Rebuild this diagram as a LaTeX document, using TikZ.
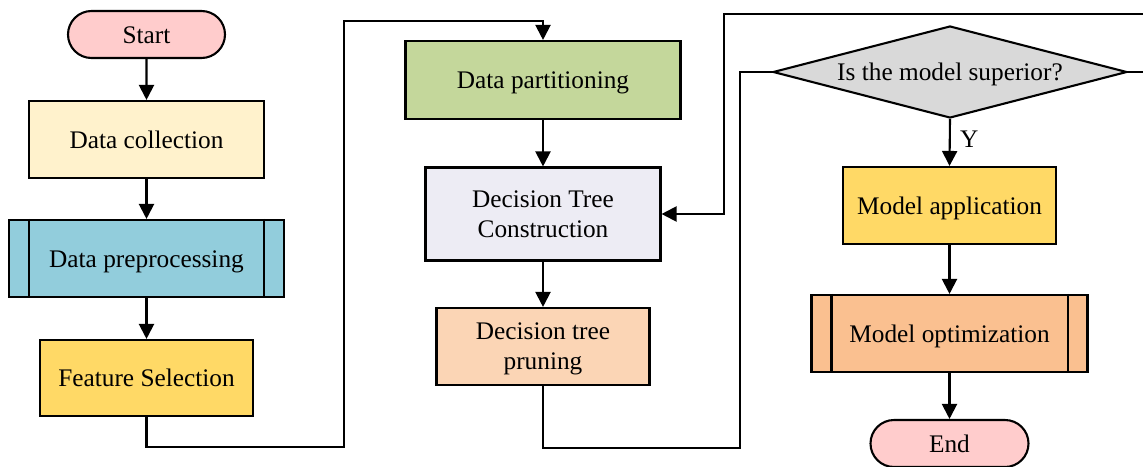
\documentclass[tikz,border=0pt]{standalone}
\usepackage{fontspec}
\setmainfont{Liberation Serif}
\usetikzlibrary{arrows.meta,shapes.geometric,shapes.misc}

\definecolor{termfill}{RGB}{255,204,204}
\definecolor{collectfill}{RGB}{255,242,204}
\definecolor{prepfill}{RGB}{146,205,220}
\definecolor{goldfill}{RGB}{255,217,102}
\definecolor{partfill}{RGB}{196,215,155}
\definecolor{constrfill}{RGB}{237,236,244}
\definecolor{prunefill}{RGB}{251,213,181}
\definecolor{decfill}{RGB}{217,217,217}
\definecolor{optfill}{RGB}{250,192,144}

\tikzset{
  every node/.style={font=\fontsize{25.3}{30}\selectfont, text=black},
  base/.style={draw=black, line width=2.1pt, inner sep=0pt, align=center},
  oneline/.style={text height=19pt, text depth=2pt},
  procbox/.style={base, rectangle},
  termbox/.style={base, rounded rectangle, oneline},
  subbox/.style={base, rectangle, oneline},
  decbox/.style={base, diamond, aspect=3.85, oneline},
  link/.style={line width=2.1pt, draw=black},
  sideline/.style={line width=2.1pt, draw=black},
  arr/.style={link, -{Triangle[length=15pt,width=15pt]}},
}

\begin{document}
\begin{tikzpicture}[x=1pt,y=-1pt]
  \useasboundingbox (0,0) rectangle (1143,466);

  % left column
  \node[termbox, fill=termfill, minimum width=157pt, minimum height=47pt] (start) at (146.5,34.5) {Start};
  \node[procbox, oneline, fill=collectfill, minimum width=235pt, minimum height=77pt] (collect) at (146.5,139.5) {Data collection};
  \node[subbox, fill=prepfill, minimum width=275pt, minimum height=77pt] (prep) at (146.5,258.5) {Data preprocessing};
  \node[procbox, oneline, fill=goldfill, minimum width=213pt, minimum height=76pt] (feat) at (146.5,378) {Feature Selection};

  % middle column
  \node[procbox, oneline, fill=partfill, minimum width=275pt, minimum height=78pt] (part) at (543,80) {Data partitioning};
  \node[procbox, fill=constrfill, minimum width=235pt, minimum height=93pt] (constr) at (543,214) {Decision Tree\\Construction};
  \node[procbox, fill=prunefill, minimum width=213pt, minimum height=77pt] (prune) at (543,346.5) {Decision tree\\\raisebox{0pt}[\height][0pt]{pruning}};

  % right column
  \node[decbox, fill=decfill, minimum width=354pt, minimum height=92pt] (dec) at (950,72) {Is the model superior?};
  \node[procbox, oneline, fill=goldfill, minimum width=213pt, minimum height=77pt] (app) at (949.5,205.5) {Model application};
  \node[subbox, fill=optfill, minimum width=276pt, minimum height=77pt] (opt) at (949.5,333.5) {Model optimization};
  \node[termbox, fill=termfill, minimum width=158pt, minimum height=47pt] (end) at (949.5,443.5) {End};

  % inner side bars of the predefined-process boxes
  \foreach \n in {prep,opt} {
    \draw[sideline] ([xshift=21pt]\n.north west) -- ([xshift=21pt]\n.south west);
    \draw[sideline] ([xshift=-21pt]\n.north east) -- ([xshift=-21pt]\n.south east);
  }

  % routing points
  \coordinate (j1) at (344,447);
  \coordinate (j2) at (344,21);
  \coordinate (j3) at (740,448);
  \coordinate (j4) at (740,72);
  \coordinate (k1) at (1150,72);
  \coordinate (k2) at (1150,14);
  \coordinate (k3) at (724,14);
  \coordinate (k4) at (724,214);

  % connectors
  \draw[arr] (start) -- (collect);
  \draw[arr] (collect) -- (prep);
  \draw[arr] (prep) -- (feat);
  \draw[arr] (feat.south) |- (j1) -- (j2) -| (part.north);
  \draw[arr] (part) -- (constr);
  \draw[arr] (constr) -- (prune);
  \draw[link] (prune.south) |- (j3) -- (j4) -- (dec.west);
  \draw[arr] (dec.east) -- (k1) -- (k2) -- (k3) -- (k4) -- (constr.east);
  \draw[arr] (dec.south) -- node[right=6pt, pos=0.42, oneline] (ylab) {Y} (app.north);
  \draw[arr] (app) -- (opt);
  \draw[arr] (opt) -- (end);
\end{tikzpicture}
\end{document}
